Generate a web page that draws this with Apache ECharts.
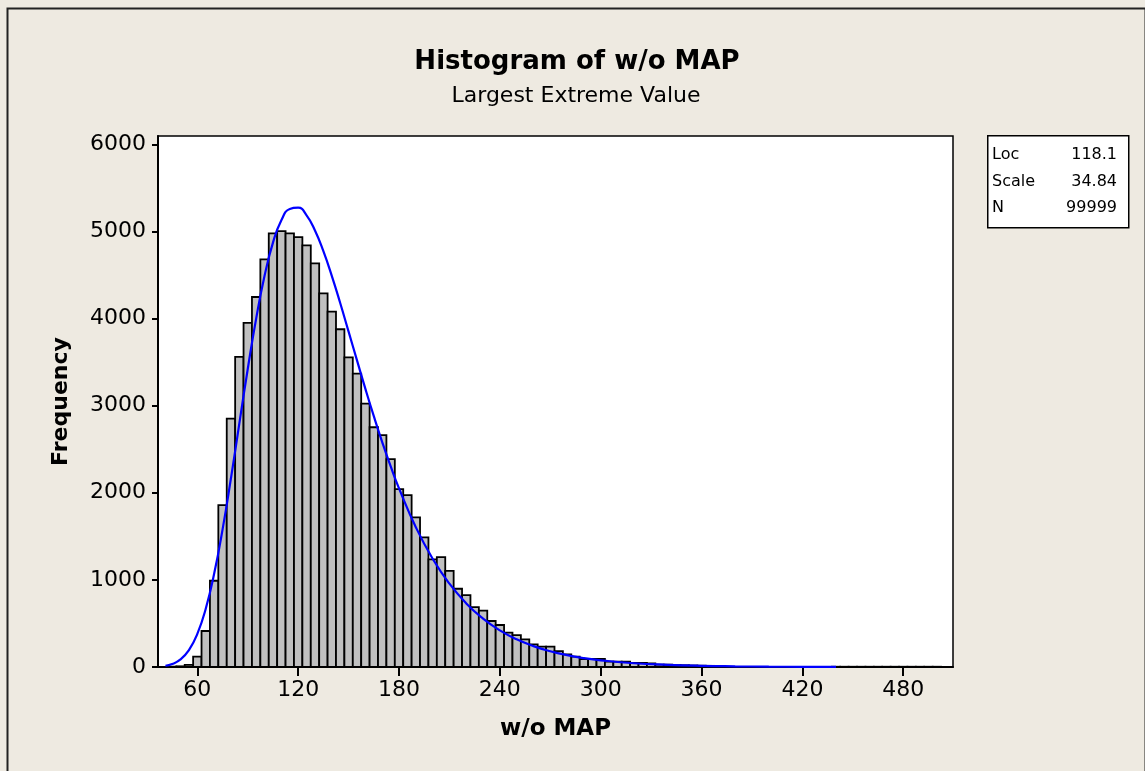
<!DOCTYPE html>
<html>
<head>
<meta charset="utf-8">
<script src="https://cdn.jsdelivr.net/npm/echarts@6/dist/echarts.min.js"></script>
<style>
  html, body { margin: 0; padding: 0; background: #eeeae1; }
  #chart { width: 1145px; height: 771px; }
</style>
</head>
<body>
<div id="chart"></div>
<script>
const FONT = '"DejaVu Sans", Verdana, sans-serif';

// histogram bins (midpoints, width 5) and counts
const binWidth = 5;
const binMids = [45, 50, 55, 60, 65, 70, 75, 80, 85, 90, 95, 100, 105, 110, 115, 120, 125, 130, 135, 140,
  145, 150, 155, 160, 165, 170, 175, 180, 185, 190, 195, 200, 205, 210, 215, 220, 225, 230, 235, 240,
  245, 250, 255, 260, 265, 270, 275, 280, 285, 290, 295, 300, 305, 310, 315, 320, 325, 330, 335, 340,
  345, 350, 355, 360, 365,
  440, 445, 450, 455, 460, 465, 470, 475, 480, 485, 490, 495, 500];
const binCounts = [4, 8, 25, 118, 413, 990, 1858, 2852, 3559, 3949, 4247, 4679, 4977, 5003, 4977, 4935, 4839, 4633, 4289, 4079,
  3877, 3555, 3368, 3024, 2752, 2661, 2385, 2041, 1972, 1718, 1489, 1235, 1261, 1104, 898, 826, 688, 646, 528, 482,
  394, 367, 317, 260, 233, 233, 183, 145, 118, 92, 92, 92, 61, 61, 61, 46, 46, 42, 28, 26,
  22, 20, 17, 15, 13,
  3, 3, 3, 3, 3, 3, 3, 3, 3, 3, 3, 3, 3];

// fitted curve (blue line)
const curveX = [41, 45, 50, 55, 60, 65, 70, 75, 80, 85, 90, 95, 100, 105, 110, 115, 120, 125, 130, 135,
  140, 145, 150, 155, 160, 165, 170, 175, 180, 190, 200, 210, 220, 230, 240, 250, 260, 270, 280, 290,
  300, 320, 340, 360, 380, 400, 420, 440];
const curveY = [14, 34, 87, 193, 380, 668, 1070, 1577, 2166, 2796, 3421, 3999, 4490, 4871, 5128, 5258, 5272, 5184, 5011, 4773,
  4490, 4178, 3849, 3519, 3192, 2879, 2582, 2305, 2050, 1605, 1243, 956, 730, 556, 421, 318, 240, 181, 136, 102,
  77, 43, 25, 14, 8, 4, 2.5, 1.4];

const xTicks = [60, 120, 180, 240, 300, 360, 420, 480];
const yTicks = [0, 1000, 2000, 3000, 4000, 5000, 6000];

const statNames = ['Loc', 'Scale', 'N'];
const statValues = ['118.1', '34.84', '99999'];

const chart = echarts.init(document.getElementById('chart'), null, { renderer: 'canvas' });

function renderBar(params, api) {
  const mid = api.value(0);
  const count = api.value(1);
  const topLeft = api.coord([mid - binWidth / 2, count]);
  const bottomRight = api.coord([mid + binWidth / 2, 0]);
  return {
    type: 'rect',
    shape: {
      x: topLeft[0],
      y: topLeft[1],
      width: bottomRight[0] - topLeft[0],
      height: bottomRight[1] - topLeft[1]
    },
    style: { fill: '#c0c0c0', stroke: '#000', lineWidth: 1.8 }
  };
}

const statTexts = [];
statNames.forEach((name, i) => {
  statTexts.push({
    type: 'text', x: 992, y: 155 + i * 26.6,
    style: { text: name, font: '16px ' + FONT, fill: '#000', textVerticalAlign: 'middle' }
  });
  statTexts.push({
    type: 'text', x: 1117, y: 155 + i * 26.6,
    style: { text: statValues[i], font: '16px ' + FONT, fill: '#000', textAlign: 'right', textVerticalAlign: 'middle' }
  });
});

const option = {
  backgroundColor: '#eeeae1',
  animation: false,
  grid: {
    left: 158, right: 192, top: 136, bottom: 104,
    outerBoundsMode: 'none',
    show: true, backgroundColor: '#fff', borderColor: '#000', borderWidth: 1.5
  },
  xAxis: {
    type: 'value',
    min: 36.6,
    max: 509.6,
    name: 'w/o MAP',
    nameLocation: 'middle',
    nameGap: 51,
    nameTextStyle: { fontFamily: FONT, fontWeight: 'bold', fontSize: 23, color: '#000' },
    axisLine: { lineStyle: { color: '#000', width: 2 } },
    axisTick: { length: 9, lineStyle: { color: '#000', width: 2 }, customValues: xTicks },
    axisLabel: { fontFamily: FONT, fontSize: 22, color: '#000', margin: 12, customValues: xTicks },
    splitLine: { show: false }
  },
  yAxis: {
    type: 'value',
    min: 0,
    max: 6095,
    name: 'Frequency',
    nameLocation: 'middle',
    nameGap: 86,
    nameRotate: 90,
    nameTextStyle: { fontFamily: FONT, fontWeight: 'bold', fontSize: 22, color: '#000' },
    axisLine: { lineStyle: { color: '#000', width: 2 } },
    axisTick: { length: 6, lineStyle: { color: '#000', width: 2 }, customValues: yTicks },
    axisLabel: {
      fontFamily: FONT, fontSize: 22, color: '#000', margin: 12, customValues: yTicks,
      formatter: (v) => String(v)
    },
    splitLine: { show: false }
  },
  series: [
    {
      type: 'custom',
      renderItem: renderBar,
      clip: true,
      data: binMids.map((m, i) => [m, binCounts[i]]),
      z: 2
    },
    {
      type: 'line',
      data: curveX.map((x, i) => [x, curveY[i]]),
      smooth: true,
      showSymbol: false,
      lineStyle: { color: '#0000ff', width: 2.2 },
      z: 3
    }
  ],
  graphic: [
    {
      type: 'rect', left: 5, top: 6, silent: true,
      shape: { width: 1138, height: 800 },
      style: { fill: 'none', stroke: '#222', lineWidth: 2 }
    },
    {
      type: 'text', x: 577, y: 62,
      style: { text: 'Histogram of w/o MAP', font: 'bold 26px ' + FONT, fill: '#000', textAlign: 'center', textVerticalAlign: 'middle' }
    },
    {
      type: 'text', x: 576, y: 96,
      style: { text: 'Largest Extreme Value', font: '22px ' + FONT, fill: '#000', textAlign: 'center', textVerticalAlign: 'middle' }
    },
    {
      type: 'rect', left: 987, top: 135, silent: true,
      shape: { width: 141, height: 92 },
      style: { fill: '#fff', stroke: '#000', lineWidth: 1.5 }
    }
  ].concat(statTexts)
};

chart.setOption(option);
</script>
</body>
</html>
